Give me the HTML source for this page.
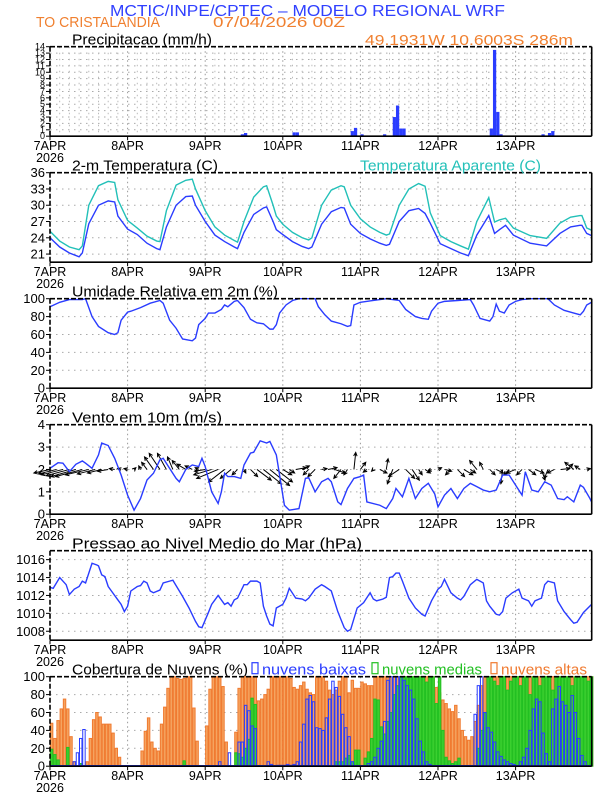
<!DOCTYPE html>
<html><head><meta charset="utf-8"><style>
html,body{margin:0;padding:0;background:#fff;}
svg{display:block;font-family:"Liberation Sans",sans-serif;}
</style></head><body>
<svg id="chart" width="612" height="792" viewBox="0 0 612 792" xmlns="http://www.w3.org/2000/svg">
<text x="110" y="16" font-size="16" fill="#3040ff" textLength="395" lengthAdjust="spacingAndGlyphs">MCTIC/INPE/CPTEC – MODELO REGIONAL WRF</text>
<text x="36" y="27" font-size="15" fill="#f08030" textLength="124" lengthAdjust="spacingAndGlyphs">TO CRISTALANDIA</text>
<text x="213" y="27" font-size="15" fill="#f08030" textLength="132" lengthAdjust="spacingAndGlyphs">07/04/2026 00Z</text>
<text x="365" y="45" font-size="15" fill="#f08030" textLength="208" lengthAdjust="spacingAndGlyphs">49.1931W 10.6003S 286m</text>
</svg>
<script>
// ---------- data ----------
const dayLabels = ["7APR","8APR","9APR","10APR","11APR","12APR","13APR"];
const precipTicks = [0,1,2,3,4,5,6,7,8,9,10,11,12,13,14];
const tempTicks = [21,24,27,30,33,36];
const rhTicks = [0,20,40,60,80,100];
const windTicks = [0,1,2,3,4];
const presTicks = [1008,1010,1012,1014,1016];
const cloudTicks = [0,20,40,60,80,100];

const precipHours = [14,16,43,59,60,67,69,75,76,86,88,93,94,96,103,106,107,108,109,113,125,131,136,137,138,139,145,152,154,155,160];
const precipVals  = [0.1,0.1,0.1,0.3,0.5,0.1,0.1,0.6,0.6,0.1,0.1,0.8,1.3,0.3,0.3,3.0,4.8,1.2,1.2,0.1,0.1,0.1,1.2,13.5,3.8,0.3,0.1,0.3,0.5,0.8,0.1];

const tempHours = [0,3,6,9,10,12,15,18,20,21,24,27,30,33,34,36,39,42,44,45,48,51,54,57,58,60,63,66,67,69,70,72,75,78,80,81,84,87,90,91,93,96,99,102,104,105,108,111,114,116,117.6,120.7,124,127,129.4,132,135.7,137.5,139,140.9,143.3,148.5,153.6,157.7,161,163.9,164.5,166,167.5];
const tempVals = [24.0,22.3,21.2,20.5,21.2,26.6,30.0,30.8,30.6,28.0,25.6,24.6,23.0,22.0,21.8,26,30,31.6,31.7,30,27,24.5,23.3,22.3,22.0,25,28.3,29.5,29.7,27,25.5,24.6,23.3,22.4,22.0,22.3,26.5,28.8,29.6,29.5,26.5,24.8,23.8,23.0,22.6,22.8,27,29,29.4,28.5,26.7,22.9,22,21.2,20.7,24.5,28.1,24.8,25.5,26.3,24.5,23.0,22.5,24.8,26.0,26.3,26.3,24.8,24.4];
const appTempVals = [25.2,23.4,22.3,21.8,22.5,30,33.6,34.4,34.2,31,27.2,25.8,24.3,23.4,23.3,29,33.7,34.6,34.8,33,29,26,24.5,23.5,23.2,27,31.5,33.4,33.6,30,28,26.5,25,24,23.6,24,30,32.8,33.6,33.4,30,27.5,26,25,24.5,24.7,30,33,34,33.5,28.6,24.4,23.3,22.5,21.9,27,31.4,26.9,27.3,27.6,25.8,24.4,23.9,26.7,27.8,28.1,28.1,25.8,25.4];

const rhHours = [0,3,6,10,11,13,15,18,20,21,22,24,25,28,31,34,35,37,39,41,44,45,46,48,49,51,53,54,55,56,57,58,60,62,64,66,68,69,70,71,73,75,77,82,83,85,87,90,92,93,94,96,100,104,108,110,113,115,117,118,120,122,126,130,131,133,135,136,137,138,139,140.5,142,144,146,149,154,156,159,162,164,165,166,167.5];
const rhVals = [91,96,99,99,100,80,69,62,60,62,76,85,86,90,95,98,95,76,67,55,53,56,71,78,84,84,88,93,91,94,97,98,90,77,73,72,66,66,71,84,93,98,100,100,91,82,75,72,69,70,93,96,98,100,98,88,80,78,77,86,95,97,98,99,93,78,76,75,80,94,86,84,93,97,99,100,100,93,87,84,82,86,93,96];

const windHours = [0,2.5,4,6,8,10,11,13,15,16,18,20,22,24,26,28,30,32,34,35,37,39,40,42,44,46,47,48,50,52,53,54,55,57,59,60,62,63,65,67,68,70,71,72.5,74,77,79,80,82,84,86,87,89,90,92,94,96,97,98,102,104,106,107,109,111,113,115,117,119,120,122,124,126,128,130,132,134,136,138,140,142,144,146,147,149,151,153,155,157,159,160,162,164,165,167,167.5];
const windVals = [2.05,2.3,2.28,1.9,2.23,2.38,2.28,2.05,2.65,3.18,3.07,2.5,1.75,0.85,0.18,0.7,1.53,1.83,2.43,2.5,2.05,1.6,1.45,2.0,2.2,2.13,2.5,2.13,1.0,0.48,1.0,1.83,1.68,1.68,1.6,2.2,2.73,2.77,3.28,3.18,3.25,2.65,1.75,0.4,0.18,0.25,1.6,1.63,1.0,1.45,1.6,1.45,0.55,0.43,1.15,1.6,1.68,1.75,0.55,0.4,0.25,0.7,1.15,0.78,1.6,0.7,1.15,1.38,0.9,0.33,0.85,1.15,0.7,1.15,1.38,1.23,1.08,1.0,1.08,1.75,1.75,1.3,0.85,1.9,1.08,1.0,1.45,1.3,0.7,0.65,0.78,0.55,1.3,1.2,0.7,0.55];

const arrowHours = [0,2,4,6,8,10,12,14,16,18,20,22,24,26,28,30,32,34,36,38,40,42,44,46,48,50,52,54,56,58,60,62,64,66,68,70,72,74,76,78,80,82,84,86,88,90,92,94,96,98,100,102,104,106,108,110,112,114,116,118,120,122,124,126,128,130,132,134,136,138,140,142,144,146,148,150,152,154,156,158,160,162,164,166];
const arrowU = [-0.9,-1.0,-1.2,-1.3,-1.4,-1.5,-1.3,-1.0,-0.8,-0.6,-0.3,-0.2,-0.2,0.1,-0.1,-0.3,-0.5,-0.6,-0.5,-0.3,-0.4,-0.5,-0.4,-0.2,-0.6,-1.0,-1.2,-0.9,-0.6,-0.3,0.1,0.4,0.8,1.0,1.1,0.9,0.5,0.3,0.6,0.4,-0.3,-0.4,0.3,0.5,0.6,-0.4,-0.2,0.1,0.3,-0.2,-0.1,0.4,0.1,-0.3,-0.6,0.5,0.4,0.2,0.3,-0.2,0.2,0.4,-0.3,0.4,0.5,0.3,-0.4,-0.2,0.3,0.4,-0.1,-0.3,-0.5,-0.3,0.4,0.5,0.2,-0.2,-0.4,0.5,0.3,-0.5,-0.3,0.2];
const arrowV = [-0.2,-0.25,-0.3,-0.35,-0.4,-0.4,-0.3,-0.25,-0.2,-0.1,0.05,0.05,0.05,0.1,0.2,0.4,0.7,0.9,0.9,0.7,0.5,0.3,0.2,0.1,-0.1,-0.3,-0.5,-0.7,-0.5,-0.3,-0.2,-0.4,-0.6,-0.8,-0.9,-0.7,-0.3,-0.2,0.1,0.2,-0.3,-0.4,0.05,0.1,-0.2,-0.5,-0.3,0.95,0.4,-0.15,-0.1,-0.2,0.6,-0.8,-0.4,-0.5,-0.6,-0.3,-0.2,-0.1,0.1,-0.1,-0.3,-0.4,-0.3,-0.2,0.5,0.4,-0.3,-0.2,-0.8,-0.3,-0.2,-0.3,-0.3,-0.2,-0.6,-0.5,-0.2,0.05,0.3,0.4,0.2,0.05];

const presHours = [0,1,3,5,6,7.5,9,10,11,13,14.5,15,16,17,18,19,21,22,23,24,25,27,28,29,30,31,32,34,35,37,38,39,41,43,45,46,47,49,50,51,52,54,55,56,57,58,60,61,62,64,65,66,67,68,69,70,72,73,74,76,78,79,80,82,84,85,87,89,90,91,92,93,95,97,99,100,101,102,103,104,105,106,107,108,109,111,113,115,116,118,120,121,122,124,126,127,128,130,132,134,135,136,138,139,140,141,143,145,146,148,149,150,152,153,154,156,157,159,161,162,163,165,167.5];
const presVals = [1012.9,1012.8,1014.0,1013.2,1012.1,1012.7,1013.0,1013.6,1013.4,1015.6,1015.4,1015.3,1014.3,1014.1,1013.0,1012.5,1011.5,1011.0,1010.2,1010.8,1012.5,1013.0,1013.1,1013.6,1013.4,1012.5,1012.3,1012.6,1013.4,1013.6,1013.7,1013.1,1011.9,1010.6,1009.1,1008.5,1008.4,1010.1,1011.0,1011.5,1012.0,1011.0,1011.2,1010.8,1011.5,1011.7,1013.2,1013.2,1013.6,1013.6,1013.4,1010.8,1009.7,1008.8,1008.6,1010.6,1011.0,1011.7,1012.8,1011.7,1011.6,1011.4,1011.7,1012.7,1013.2,1013.0,1012.5,1010.2,1009.3,1008.4,1008.0,1008.2,1010.6,1011.2,1012.3,1011.6,1011.4,1011.5,1011.6,1011.8,1014.0,1014.1,1014.5,1014.5,1013.6,1011.7,1010.6,1009.9,1009.7,1011.4,1012.7,1013.0,1013.8,1012.3,1011.7,1011.5,1011.9,1013.2,1013.8,1013.4,1011.4,1010.8,1009.9,1009.8,1010.2,1011.7,1012.3,1012.7,1011.7,1011.4,1010.8,1011.4,1011.7,1013.2,1013.6,1013.4,1011.4,1010.2,1009.3,1008.9,1009.0,1010.1,1011.0];

const cloudHigh = [48,31,51,64,75,64,33,5,0,0,0,5,31,52,60,55,47,47,47,37,20,10,0,0,
0,0,0,0,17,39,54,27,20,17,47,66,87,100,100,98,97,98,100,100,65,28,0,0,
45,86,100,100,100,89,27,0,0,38,87,100,100,100,100,100,73,75,80,86,100,100,100,100,
100,100,98,88,86,90,94,86,82,80,100,100,100,95,85,80,85,95,100,100,82,96,87,87,
94,92,90,90,100,100,100,100,100,100,100,100,100,100,100,100,100,100,100,100,100,100,100,88,
82,74,70,64,61,68,53,40,33,29,33,50,68,90,100,100,100,100,100,95,100,100,100,100,
100,100,95,100,100,100,100,100,92,100,100,100,100,100,100,100,100,100,85,100,100,95,100,100];
const cloudMed = [19,13,7,0,0,21,0,0,0,3,0,0,0,0,0,0,0,0,0,0,0,0,0,0,
0,0,0,0,0,0,0,0,0,0,0,0,0,0,0,0,0,6,0,0,0,0,0,0,
0,0,0,0,0,0,0,0,0,15,14,10,20,30,76,69,0,0,0,0,0,0,0,0,
0,0,0,0,0,0,0,0,0,0,0,0,0,0,0,0,5,5,5,9,12,5,18,18,
0,9,16,31,75,74,44,36,50,60,80,90,100,100,100,100,100,100,100,100,94,100,100,70,
100,40,10,6,3,5,9,0,0,0,0,0,20,40,60,100,100,95,90,100,100,85,95,100,
100,90,100,100,80,100,100,90,100,100,100,85,100,100,100,100,100,90,100,100,100,100,95,100];
const cloudLow = [0,0,0,0,0,0,0,5,15,31,41,0,0,0,0,0,0,0,0,0,0,0,0,0,
0,0,0,0,0,0,0,0,0,0,0,0,0,0,0,0,0,0,0,0,0,0,0,0,
0,0,0,0,5,0,0,15,0,0,27,27,68,62,45,42,0,0,0,5,2,0,1,1,
1,2,1,2,5,27,47,75,79,72,43,42,40,54,75,95,88,78,58,43,33,5,0,0,
0,0,3,5,10,20,28,50,96,100,100,100,100,96,90,85,75,53,28,16,5,2,0,0,
0,0,0,0,0,0,0,0,0,0,0,58,90,100,60,43,38,27,16,11,7,5,3,2,
0,5,10,20,40,64,75,72,37,14,5,64,75,89,72,68,60,79,60,31,12,5,0,0];

// ---------- drawing ----------
const svg = document.getElementById('chart');
const NS = 'http://www.w3.org/2000/svg';
const X0 = 50, X1 = 591.7, PXH = 77.6/24;
const tops = [46.7,172.7,298.7,424.7,550.7,676.7];
const PH = 89.5;
function xh(h){ return X0 + h*PXH; }
function mk(tag, attrs, name, parent){
  const e = document.createElementNS(NS, tag);
  for (const k in attrs) e.setAttribute(k, attrs[k]);
  
  
  (parent||svg).appendChild(e);
  return e;
}
function yScale(i, lo, hi){ const t=tops[i]; return v => t + PH - (v-lo)/(hi-lo)*PH; }

function frame(i, lo, hi, ticks, tickFmt, title, titleLen, pname, dense){
  const g = mk('g', {}, pname+'-panel');
  const y = yScale(i, lo, hi);
  const t = tops[i], b = t+PH;
  ticks.forEach(v=>{
    if (v<=lo+1e-6 || v>=hi-1e-6) return;
    mk('line',{x1:X0,x2:X1,y1:y(v),y2:y(v),stroke:'#aaa','stroke-width':1,'stroke-dasharray':'1.5,4.5'}, pname+'-grid-h', g);
  });
  if (dense){
    for (let h=3; h<168; h+=3){ if (h%24) mk('line',{x1:xh(h),x2:xh(h),y1:t,y2:b,stroke:'#bbb','stroke-width':1,'stroke-dasharray':'1.5,4.5'}, pname+'-grid-v', g); }
  }
  for (let d=1; d<7; d++){
    mk('line',{x1:xh(d*24),x2:xh(d*24),y1:t,y2:b,stroke:'#999','stroke-width':1,'stroke-dasharray':'1.5,3'}, pname+'-grid-day', g);
  }
  ticks.forEach(v=>{
    mk('line',{x1:X0-4,x2:X0,y1:y(v),y2:y(v),stroke:'#000','stroke-width':1}, pname+'-ytick', g);
    const tx = mk('text',{x:X0-5,y:y(v)+(dense?3:4.5),'font-size':dense?9:13,'text-anchor':'end',fill:'#000'}, pname+'-ytick-label', g);
    tx.textContent = tickFmt(v);
  });
  dayLabels.forEach((lab,d)=>{
    mk('line',{x1:xh(d*24),x2:xh(d*24),y1:b,y2:b+4,stroke:'#000','stroke-width':1}, pname+'-xtick', g);
    const tx = mk('text',{x:xh(d*24),y:b+14,'font-size':12.5,'text-anchor':'middle',fill:'#000'}, pname+'-xtick-label', g);
    tx.textContent = lab;
  });
  const yr = mk('text',{x:X0,y:b+26,'font-size':12.5,'text-anchor':'middle',fill:'#000'}, pname+'-year-label', g);
  yr.textContent = '2026';
  const tt = mk('text',{x:72,y:t-2,'font-size':15,fill:'#000',textLength:titleLen,lengthAdjust:'spacingAndGlyphs'}, pname+'-title', g);
  tt.textContent = title;
  return {g, y, t, b};
}
function border(p, pname){
  mk('line',{x1:X0,x2:X1,y1:p.t,y2:p.t,stroke:'#000','stroke-width':1.6,'stroke-dasharray':'5,2'}, pname+'-border-top', p.g);
  mk('line',{x1:X0,x2:X0,y1:p.t,y2:p.b,stroke:'#000','stroke-width':1.6,'stroke-dasharray':'5,2'}, pname+'-border-left', p.g);
  mk('line',{x1:X1,x2:X1,y1:p.t,y2:p.b,stroke:'#000','stroke-width':1.6}, pname+'-border-right', p.g);
  mk('line',{x1:X0,x2:X1,y1:p.b,y2:p.b,stroke:'#000','stroke-width':1.6}, pname+'-border-bottom', p.g);
}
function linePath(hours, vals, y){
  return hours.map((h,i)=>(i?'L':'M')+xh(h).toFixed(2)+','+y(vals[i]).toFixed(2)).join(' ');
}

// Precip
let p = frame(0, 0, 14, precipTicks, v=>String(v), 'Precipitacao (mm/h)', 140, 'precip', true);
precipHours.forEach((h,i)=>{
  const y0 = p.y(0), y1 = p.y(precipVals[i]);
  mk('rect',{x:xh(h),y:y1,width:PXH,height:Math.max(0.8,y0-y1),fill:'#2a3cff'}, 'precip-bar', p.g);
});
border(p,'precip');

// Temperature
p = frame(1, 19.5, 36, tempTicks, v=>String(v), '2-m Temperatura (C)', 146, 'temp');
mk('path',{d:linePath(tempHours, appTempVals, p.y),fill:'none',stroke:'#22c0b8','stroke-width':1.4}, 'apparent-temperature-line', p.g);
mk('path',{d:linePath(tempHours, tempVals, p.y),fill:'none',stroke:'#2a3cff','stroke-width':1.4}, 'temperature-line', p.g);
border(p,'temp');
const ap = mk('text',{x:360,y:p.t-2,'font-size':15,fill:'#22c0b8',textLength:181,lengthAdjust:'spacingAndGlyphs'}, 'apparent-temperature-legend', p.g);
ap.textContent = 'Temperatura Aparente (C)';

// RH
p = frame(2, 0, 100, rhTicks, v=>String(v), 'Umidade Relativa em 2m (%)', 206, 'rh');
mk('path',{d:linePath(rhHours, rhVals, p.y),fill:'none',stroke:'#2a3cff','stroke-width':1.4}, 'humidity-line', p.g);
border(p,'rh');

// Wind
p = frame(3, 0, 4, windTicks, v=>String(v), 'Vento em 10m (m/s)', 150, 'wind');
const ppu = PH/4*0.8;
arrowHours.forEach((h,i)=>{
  const x0 = xh(h), y0 = p.y(2);
  const x1 = x0 + arrowU[i]*ppu, y1 = y0 - arrowV[i]*ppu;
  const ang = Math.atan2(y1-y0, x1-x0), L = 4;
  const a1x = x1 - L*Math.cos(ang-0.45), a1y = y1 - L*Math.sin(ang-0.45);
  const a2x = x1 - L*Math.cos(ang+0.45), a2y = y1 - L*Math.sin(ang+0.45);
  mk('path',{d:`M${x0},${y0} L${x1},${y1} M${a1x},${a1y} L${x1},${y1} L${a2x},${a2y}`,fill:'none',stroke:'#000','stroke-width':1}, 'wind-arrow', p.g);
});
mk('path',{d:linePath(windHours, windVals, p.y),fill:'none',stroke:'#2a3cff','stroke-width':1.4}, 'wind-speed-line', p.g);
border(p,'wind');

// Pressure
p = frame(4, 1007, 1017, presTicks, v=>String(v), 'Pressao ao Nivel Medio do Mar (hPa)', 290, 'pressure');
mk('path',{d:linePath(presHours, presVals, p.y),fill:'none',stroke:'#2a3cff','stroke-width':1.4}, 'pressure-line', p.g);
border(p,'pressure');

// Clouds
p = frame(5, 0, 100, cloudTicks, v=>String(v), 'Cobertura de Nuvens (%)', 176, 'cloud');
function bars(vals, fill, stroke, name){
  vals.forEach((v,h)=>{
    if (h*PXH + X0 >= X1) return;
    const y0 = p.y(0), y1 = p.y(v);
    mk('rect',{x:xh(h)+0.4,y:y1,width:PXH-0.8,height:Math.max(0,y0-y1),fill:fill,stroke:stroke,'stroke-width':1}, name, p.g);
  });
}
bars(cloudHigh, '#f5a460', '#f07a30', 'high-cloud-bar');
bars(cloudMed, '#3cd030', '#22c022', 'medium-cloud-bar');
bars(cloudLow, 'none', '#2a3cff', 'low-cloud-bar');
mk('line',{x1:X0,x2:X1,y1:p.b-0.5,y2:p.b-0.5,stroke:'#2a3cff','stroke-width':1.5}, 'low-cloud-baseline', p.g);
border(p,'cloud');
const lg = [['#2a3cff',252,'nuvens baixas',104,'low'],['#22c022',372,'nuvens medias',100,'medium'],['#f07a30',491,'nuvens altas',86,'high']];
lg.forEach(l=>{
  mk('rect',{x:l[1],y:p.t-14,width:6,height:11,fill:'none',stroke:l[0],'stroke-width':1.2}, l[4]+'-cloud-legend-swatch', p.g);
  const tx = mk('text',{x:l[1]+10,y:p.t-2,'font-size':15,fill:l[0],textLength:l[3],lengthAdjust:'spacingAndGlyphs'}, l[4]+'-cloud-legend-label', p.g);
  tx.textContent = l[2];
});
</script>
</body></html>
